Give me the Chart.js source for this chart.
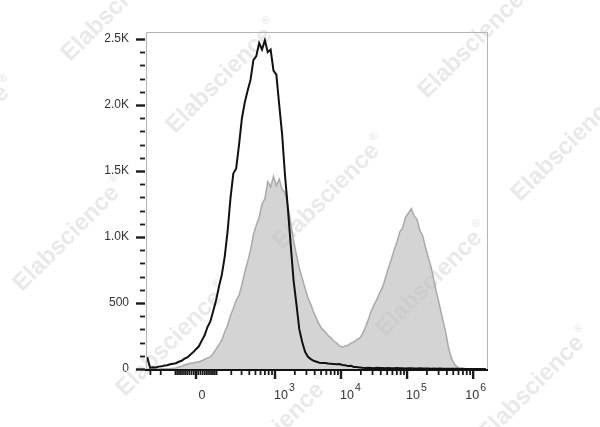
<!DOCTYPE html>
<html><head><meta charset="utf-8">
<script src="https://cdn.jsdelivr.net/npm/chart.js@4"></script>
<style>html,body{margin:0;padding:0;background:#fff}#wrap{width:600px;height:427px}</style>
</head><body><div id="wrap"><canvas id="c" width="600" height="427"></canvas></div>
<script>
// Bin centres on the display (asinh) axis
const xBins = [-1.7,-1.6,-1.5,-1.4,-1.3,-1.2,-1.1,-1.0,-0.9,-0.8,-0.7,-0.6,-0.5,-0.4,-0.3,-0.2,-0.1,
  0.0,0.1,0.2,0.3,0.4,0.5,0.6,0.7,0.8,0.9,
  1.0,1.1,1.2,1.3,1.4,1.5,1.6,1.7,1.8,1.9,
  2.0,2.1,2.2,2.3,2.4,2.5,2.6,2.7,2.8,2.9,
  3.0,3.1,3.2,3.3,3.4,3.5,3.6,3.7,3.8,3.9,
  4.0,4.1,4.2,4.3,4.4,4.5,4.6,4.7,4.8,4.9,
  5.0,5.1,5.2,5.3,5.4,5.5,5.6,5.7,5.8,5.9,
  6.0,6.1,6.2,6.3,6.4,6.5,6.6,6.7,6.8,6.9,
  7.0,7.1,7.2,7.3,7.4,7.5,7.6,7.7,7.8,7.9,
  8.0,8.1,8.2,8.3,8.4,8.5,8.6,8.7,8.8,8.9,
  9.0,9.1,9.2,9.3,9.4,9.5,9.6,9.7,9.8,9.9,
  10.0,10.1];

// Black outline histogram (control)
const controlCounts = [90,10,14,12,18,20,26,28,36,40,44,55,62,78,88,108,126,
  150,172,215,255,318,360,440,520,625,715,
  850,1040,1290,1480,1520,1700,1900,2020,2110,2190,
  2340,2370,2470,2420,2490,2400,2420,2260,2230,2000,
  1780,1470,1220,940,670,490,300,205,130,92,
  75,62,55,48,45,46,42,40,38,36,
  38,30,28,22,24,16,15,12,9,8,
  10,8,6,9,7,8,6,7,5,6,
  8,5,6,4,5,6,4,3,5,4,
  3,4,2,3,2,3,2,1,2,1,
  1,1,0,1,0,0,0,0,0,0,
  0,0];

// Grey filled histogram (stained)
const stainedCounts = [0,0,0,0,0,1,1,2,3,5,8,15,22,30,38,44,46,
  52,55,62,74,84,92,118,150,185,220,
  280,330,405,460,520,560,640,735,815,900,
  1020,1090,1150,1250,1290,1420,1380,1460,1390,1440,
  1360,1340,1240,1110,975,865,765,690,612,540,
  490,432,380,335,302,282,256,236,212,196,
  175,165,176,180,198,204,222,234,266,316,
  372,438,486,528,578,620,690,764,828,900,
  960,1040,1070,1150,1180,1215,1160,1135,1050,1010,
  918,840,766,660,560,470,372,280,160,84,
  38,15,8,3,1,0,0,0,0,0,
  0,0];

const yTickValues = [0,500,1000,1500,2000,2500];
const yTickLabels = ['0','500','1.0K','1.5K','2.0K','2.5K'];
const xMajorValues = [0,1e3,1e4,1e5,1e6];
const xMajorBase = ['0','10','10','10','10'];
const xMajorExp = ['','3','4','5','6'];
const watermarkText = 'Elabscience';

const biexWidth = 128;
function biex(v){ return Math.asinh(v / biexWidth); }

// minor tick values for the x axis
const xMinorValues = [-300,-200,-100];
for (let k = 1; k <= 9; k++) { xMinorValues.push(-10*k, 10*k, 100*k); }
for (let d = 1e3; d < 1e6; d *= 10) { for (let k = 2; k <= 9; k++) xMinorValues.push(k*d); }

const pts = (arr) => xBins.map((x,i) => ({x: x, y: arr[i]}));

const wmCentres = [[223,77],[330,193],[433,280],[173,340],[475,42],[568,145],[70,235],[118,5],[-40,135],[275,432],[535,385]];

const cytoPlugin = {
  id: 'cyto',
  beforeDatasetsDraw(chart) {
    const ctx = chart.ctx;
    ctx.save();
    ctx.fillStyle = '#e9e9e9';
    for (const [cx, cy] of wmCentres) {
      ctx.save();
      ctx.translate(cx, cy);
      ctx.rotate(-Math.PI/4);
      ctx.font = 'bold 24px "Liberation Sans", Arial, sans-serif';
      const w = ctx.measureText(watermarkText).width;
      ctx.textBaseline = 'middle';
      ctx.textAlign = 'left';
      ctx.fillText(watermarkText, -w/2 - 5, 0);
      ctx.font = 'bold 11px "Liberation Sans", Arial, sans-serif';
      ctx.fillText('\u00AE', w/2 - 3, -9);
      ctx.restore();
    }
    ctx.restore();
  },
  afterDatasetsDraw(chart) {
    const ctx = chart.ctx;
    const a = chart.chartArea;
    const xs = chart.scales.x, ys = chart.scales.y;
    ctx.save();
    // frame
    ctx.strokeStyle = '#b4b4b4';
    ctx.lineWidth = 1;
    ctx.beginPath();
    ctx.moveTo(a.left + 0.5, a.bottom);
    ctx.lineTo(a.left + 0.5, a.top + 0.5);
    ctx.lineTo(a.right + 0.5, a.top + 0.5);
    ctx.lineTo(a.right + 0.5, a.bottom);
    ctx.stroke();
    // bottom axis
    ctx.strokeStyle = '#111';
    ctx.lineWidth = 2;
    ctx.beginPath();
    ctx.moveTo(a.left - 1, a.bottom + 1);
    ctx.lineTo(a.right + 1, a.bottom + 1);
    ctx.stroke();
    // y ticks
    ctx.strokeStyle = '#1a1a1a';
    for (let v = 0; v <= 2500; v += 100) {
      const y = Math.round(ys.getPixelForValue(v)) + 0.5;
      const major = v % 500 === 0;
      ctx.lineWidth = major ? 2.4 : 1.8;
      ctx.beginPath();
      ctx.moveTo(major ? a.left - 10 : a.left - 6, y);
      ctx.lineTo(a.left - 1, y);
      ctx.stroke();
    }
    // x ticks
    const base = a.bottom + 1;
    for (const v of xMinorValues) {
      const x = xs.getPixelForValue(biex(v));
      if (x < a.left || x > a.right) continue;
      ctx.lineWidth = 1.8;
      ctx.beginPath();
      ctx.moveTo(x, base);
      ctx.lineTo(x, base + 5);
      ctx.stroke();
    }
    for (const v of xMajorValues) {
      const x = xs.getPixelForValue(biex(v));
      ctx.lineWidth = 2.4;
      ctx.beginPath();
      ctx.moveTo(x, base);
      ctx.lineTo(x, base + 9);
      ctx.stroke();
    }
    // x labels
    ctx.fillStyle = '#333';
    ctx.textBaseline = 'alphabetic';
    xMajorValues.forEach((v, i) => {
      const x = xs.getPixelForValue(biex(v));
      ctx.font = '12.5px "Liberation Sans", Arial, sans-serif';
      if (!xMajorExp[i]) {
        ctx.textAlign = 'center';
        ctx.fillText(xMajorBase[i], x + 6, 399);
        return;
      }
      ctx.textAlign = 'left';
      const w1 = ctx.measureText(xMajorBase[i]).width;
      ctx.font = '10.5px "Liberation Sans", Arial, sans-serif';
      const w2 = ctx.measureText(xMajorExp[i]).width;
      let left = x - 1;
      if (left + w1 + w2 + 1 > a.right - 1) left = a.right - 1 - w1 - w2 - 1;
      ctx.font = '12.5px "Liberation Sans", Arial, sans-serif';
      ctx.fillText(xMajorBase[i], left, 399);
      ctx.font = '10.5px "Liberation Sans", Arial, sans-serif';
      ctx.fillText(xMajorExp[i], left + w1 + 1, 391);
    });
    ctx.restore();
  }
};

new Chart(document.getElementById('c'), {
  type: 'line',
  data: {
    datasets: [
      { label: 'Control', data: pts(controlCounts), borderColor: '#111', borderWidth: 2,
        fill: false, pointRadius: 0, tension: 0, order: 0 },
      { label: 'Stained', data: pts(stainedCounts), borderColor: 'rgba(150,150,150,0.75)', borderWidth: 1.5,
        backgroundColor: 'rgba(192,192,192,0.68)', fill: 'origin', pointRadius: 0, tension: 0, order: 1 }
    ]
  },
  options: {
    responsive: false,
    animation: false,
    layout: { padding: { top: 32, right: 113, bottom: 0, left: 0 } },
    plugins: { legend: { display: false }, tooltip: { enabled: false } },
    scales: {
      x: {
        type: 'linear', min: -1.742, max: 10.139,
        ticks: { display: false },
        grid: { display: false },
        border: { display: false },
        afterFit(s) { s.height = 58; }
      },
      y: {
        type: 'linear', min: 0, max: 2553,
        afterBuildTicks(s) { s.ticks = yTickValues.map(v => ({ value: v })); },
        ticks: {
          autoSkip: false,
          padding: 17,
          color: '#333',
          font: { family: '"Liberation Sans", Arial, sans-serif', size: 12 },
          callback: (v, i) => yTickLabels[i]
        },
        grid: { display: true, drawOnChartArea: false, drawTicks: false, color: 'rgba(0,0,0,0)' },
        border: { display: false },
        afterFit(s) { s.width = 146; }
      }
    }
  },
  plugins: [cytoPlugin]
});
</script>
</body></html>
